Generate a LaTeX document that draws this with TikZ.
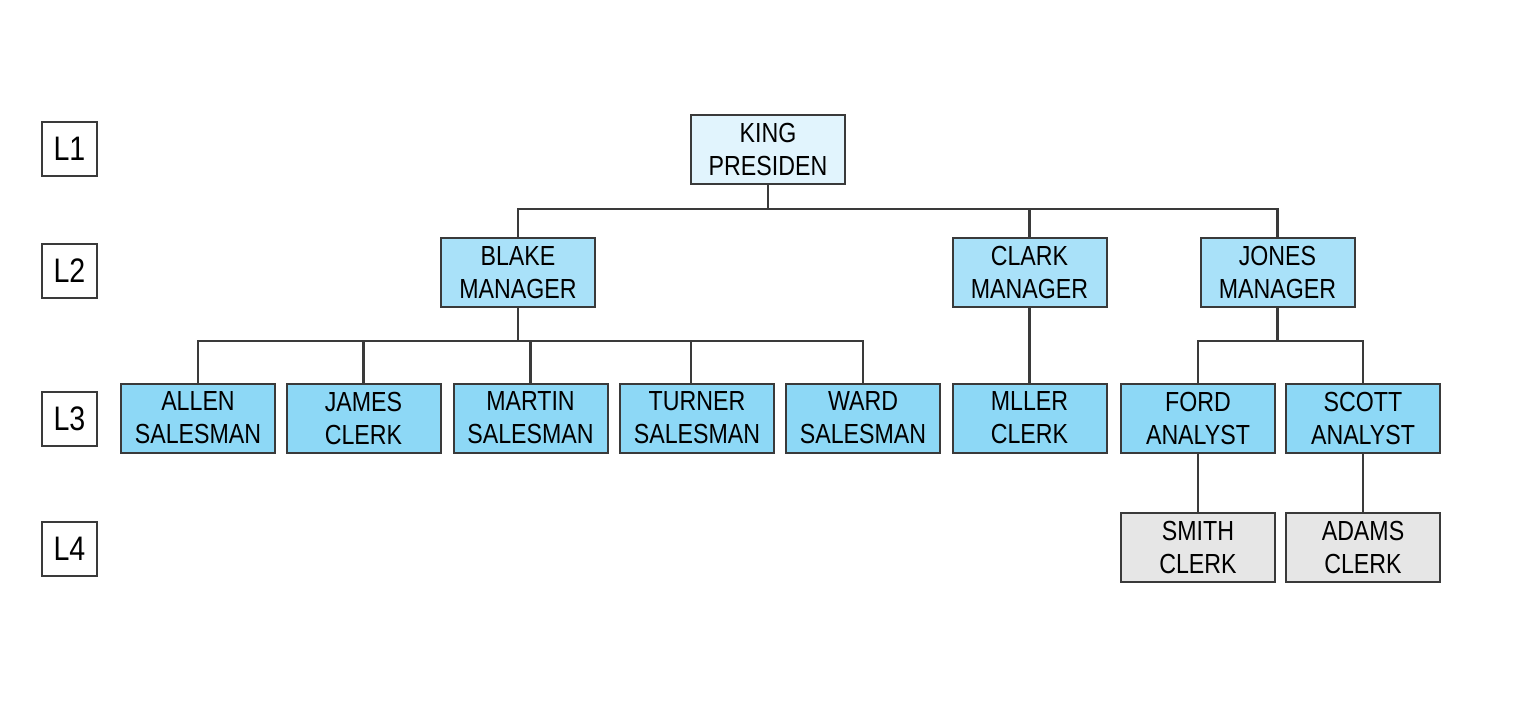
\documentclass[tikz,border=0pt]{standalone}
\usepackage{fontspec}
\setmainfont[FakeStretch=0.84]{Liberation Sans}
\usepackage{xcolor}
\usepackage{tikz}

\definecolor{linegray}{HTML}{3A3A3A}
\definecolor{topfill}{HTML}{E1F4FD}
\definecolor{mgrfill}{HTML}{A9E1F9}
\definecolor{empfill}{HTML}{8DD8F6}
\definecolor{lowfill}{HTML}{E6E6E6}

\begin{document}
\begin{tikzpicture}[x=0.5pt,y=-0.5pt,
    emp/.style={draw=linegray, line width=1pt, minimum width=77pt, minimum height=34.5pt,
        inner sep=0pt, align=center, font=\fontsize{13.8}{16.5}\selectfont},
    lvl/.style={draw=linegray, line width=1pt, minimum width=27.5pt, minimum height=27pt,
        inner sep=0pt, font=\fontsize{17}{17}\selectfont},
    link/.style={draw=linegray, line width=1.1pt}]
        \useasboundingbox (0,0) rectangle (1516,702);

        % levels
        \node[lvl] (l1) at (69.5,149) {L1};
        \node[lvl] (l2) at (69.5,271) {L2};
        \node[lvl] (l3) at (69.5,419) {L3};
        \node[lvl] (l4) at (69.5,549) {L4};

        % L1
        \node[emp, fill=topfill] (king) at (768,149.5) {KING\\PRESIDEN};

        % L2
        \node[emp, fill=mgrfill] (blake) at (518,272.5) {BLAKE\\MANAGER};
        \node[emp, fill=mgrfill] (clark) at (1029.5,272.5) {CLARK\\MANAGER};
        \node[emp, fill=mgrfill] (jones) at (1277.5,272.5) {JONES\\MANAGER};

        % L3
        \node[emp, fill=empfill] (allen) at (198,418) {ALLEN\\SALESMAN};
        \node[emp, fill=empfill] (james) at (363.5,418) {JAMES\\CLERK};
        \node[emp, fill=empfill] (martin) at (530.5,418) {MARTIN\\SALESMAN};
        \node[emp, fill=empfill] (turner) at (697,418) {TURNER\\SALESMAN};
        \node[emp, fill=empfill] (ward) at (863,418) {WARD\\SALESMAN};
        \node[emp, fill=empfill] (miller) at (1029.5,418) {MLLER\\CLERK};
        \node[emp, fill=empfill] (ford) at (1198,418) {FORD\\ANALYST};
        \node[emp, fill=empfill] (scott) at (1363,418) {SCOTT\\ANALYST};

        % L4
        \node[emp, fill=lowfill] (smith) at (1198,547.5) {SMITH\\CLERK};
        \node[emp, fill=lowfill] (adams) at (1363,547.5) {ADAMS\\CLERK};

        % links
        \coordinate (kbus) at (768,209);
        \coordinate (bbus) at (518,341);
        \coordinate (jbus) at (1277.5,341);

        \draw[link] (king.south) -- (kbus) -| (blake.north);
        \draw[link] (kbus) -| (clark.north);
        \draw[link] (kbus) -| (jones.north);

        \draw[link] (blake.south) -- (bbus) -| (allen.north);
        \draw[link] (bbus) -| (james.north);
        \draw[link] (bbus) -| (martin.north);
        \draw[link] (bbus) -| ([xshift=-3pt]turner.north);
        \draw[link] (bbus) -| (ward.north);

        \draw[link] (clark.south) -- (miller.north);

        \draw[link] (jones.south) -- (jbus) -| (ford.north);
        \draw[link] (jbus) -| (scott.north);

        \draw[link] (ford.south) -- (smith.north);
        \draw[link] (scott.south) -- (adams.north);
    \end{tikzpicture}
\end{document}
